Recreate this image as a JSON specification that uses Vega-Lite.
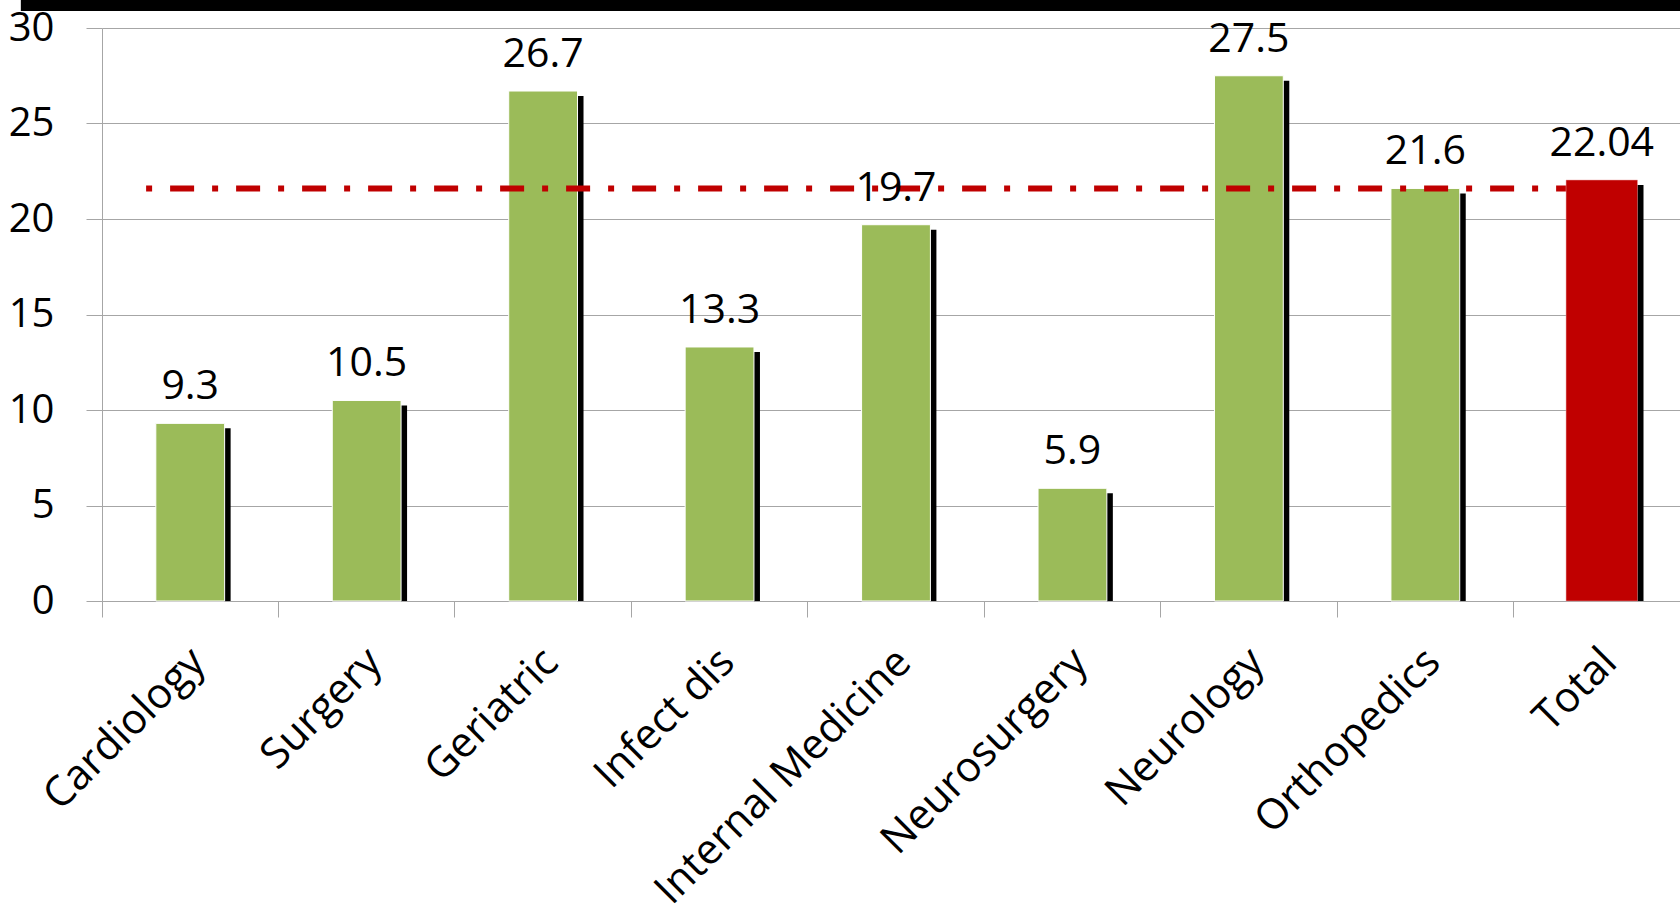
{
  "$schema": "https://vega.github.io/schema/vega-lite/v6.json",
  "width": 1588,
  "height": 573,
  "autosize": {"type": "none"},
  "padding": {"left": 102, "top": 28, "right": -10, "bottom": 309},
  "background": "white",
  "config": {"view": {"stroke": null}, "font": "Open Sans"},
  "datasets": {
    "bars": [
      {"dept": "Cardiology", "value": 9.3, "kind": "dept"},
      {"dept": "Surgery", "value": 10.5, "kind": "dept"},
      {"dept": "Geriatric", "value": 26.7, "kind": "dept"},
      {"dept": "Infect dis", "value": 13.3, "kind": "dept"},
      {"dept": "Internal Medicine", "value": 19.7, "kind": "dept"},
      {"dept": "Neurosurgery", "value": 5.9, "kind": "dept"},
      {"dept": "Neurology", "value": 27.5, "kind": "dept"},
      {"dept": "Orthopedics", "value": 21.6, "kind": "dept"},
      {"dept": "Total", "value": 22.04, "kind": "total"}
    ],
    "avg": [{"value": 21.6, "from": "Cardiology", "to": "Total"}],
    "band": [{"y1": 31.47, "y2": 30.89, "from": "Cardiology", "to": "Total"}]
  },
  "layer": [
    {
      "data": {"name": "bars"},
      "transform": [{"filter": "datum.kind === 'dept'"}],
      "mark": {"type": "bar", "color": "#000000", "xOffset": 6, "yOffset": 5, "width": {"band": 0.39}},
      "encoding": {
        "x": {
          "field": "dept", "type": "nominal",
          "scale": {"domain": ["Cardiology", "Surgery", "Geriatric", "Infect dis", "Internal Medicine", "Neurosurgery", "Neurology", "Orthopedics", "Total"], "paddingInner": 0, "paddingOuter": 0},
          "axis": {"bandPosition": 0, "labelAngle": -45, "labelAlign": "right", "labelBaseline": "middle", "labelOffset": 8, "labelPadding": 38, "tickSize": 16, "tickColor": "#A6A6A6", "tickWidth": 1, "domainColor": "#A6A6A6", "domainWidth": 1, "labelFontSize": 42, "labelFont": "Open Sans", "labelColor": "#000000", "title": null, "grid": false, "labelLimit": 1000, "labelOverlap": false}
        },
        "y": {
          "field": "value", "type": "quantitative",
          "scale": {"domain": [0, 30], "nice": false},
          "axis": {"values": [0, 5, 10, 15, 20, 25, 30], "grid": true, "gridColor": "#A6A6A6", "gridWidth": 1, "tickSize": 16, "tickColor": "#A6A6A6", "tickWidth": 1, "domainColor": "#A6A6A6", "domainWidth": 1, "labelPadding": 32, "labelFontSize": 40, "labelFont": "Open Sans", "labelColor": "#000000", "labelFlush": false, "labelBaseline": "middle", "title": null}
        },
        "y2": {"datum": 0}
      }
    },
    {
      "data": {"name": "bars"},
      "transform": [{"filter": "datum.kind === 'dept'"}],
      "mark": {"type": "bar", "color": "#9BBB59", "stroke": "#FFFFFF", "strokeWidth": 1, "width": {"band": 0.39}},
      "encoding": {
        "x": {"field": "dept", "type": "nominal"},
        "y": {"field": "value", "type": "quantitative"}
      }
    },
    {
      "data": {"name": "avg"},
      "mark": {"type": "rule", "color": "#C00000", "strokeWidth": 6, "strokeDash": [6, 18, 24, 18]},
      "encoding": {
        "x": {"field": "from", "type": "nominal", "bandPosition": 0.25},
        "x2": {"field": "to", "bandPosition": 0.5},
        "y": {"field": "value", "type": "quantitative"}
      }
    },
    {
      "data": {"name": "bars"},
      "transform": [{"filter": "datum.kind === 'total'"}],
      "mark": {"type": "bar", "color": "#000000", "xOffset": 6, "yOffset": 5, "width": {"band": 0.405}},
      "encoding": {
        "x": {"field": "dept", "type": "nominal"},
        "y": {"field": "value", "type": "quantitative"},
        "y2": {"datum": 0}
      }
    },
    {
      "data": {"name": "bars"},
      "transform": [{"filter": "datum.kind === 'total'"}],
      "mark": {"type": "bar", "color": "#C00000", "stroke": "#E8A0A0", "strokeWidth": 0.5, "width": {"band": 0.405}},
      "encoding": {
        "x": {"field": "dept", "type": "nominal"},
        "y": {"field": "value", "type": "quantitative"}
      }
    },
    {
      "data": {"name": "bars"},
      "mark": {"type": "text", "baseline": "alphabetic", "align": "center", "dy": -24, "fontSize": 41, "font": "Open Sans", "color": "#000000"},
      "encoding": {
        "x": {"field": "dept", "type": "nominal"},
        "y": {"field": "value", "type": "quantitative"},
        "text": {"field": "value", "type": "quantitative"}
      }
    },
    {
      "data": {"name": "band"},
      "mark": {"type": "rect", "color": "#000000"},
      "encoding": {
        "x": {"field": "from", "type": "nominal", "bandPosition": -0.46},
        "x2": {"field": "to", "bandPosition": 1.5},
        "y": {"field": "y1", "type": "quantitative"},
        "y2": {"field": "y2"}
      }
    }
  ]
}
